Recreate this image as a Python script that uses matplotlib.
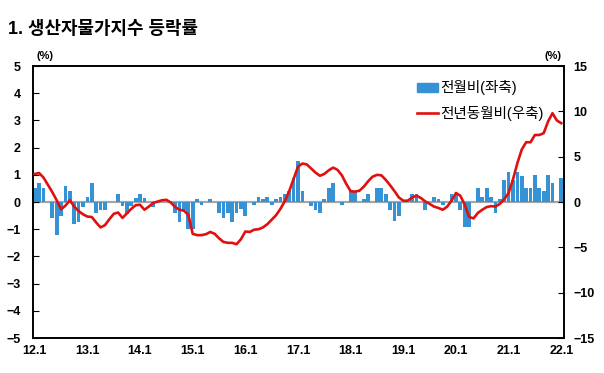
import numpy as np
import matplotlib.pyplot as plt
from matplotlib.patches import Patch
from matplotlib.lines import Line2D

plt.rcParams['font.family'] = ['Liberation Sans', 'Noto Sans CJK KR', 'DejaVu Sans']

# monthly, 2012.1 ~ 2022.1
tick_labels = ['12.1', '13.1', '14.1', '15.1', '16.1', '17.1',
               '18.1', '19.1', '20.1', '21.1', '22.1']

# 전월비 (left axis, %)
mom = [0.5, 0.7, 0.5, 0.0, -0.6, -1.2, -0.5, 0.6, 0.4, -0.8, -0.75, -0.2,
       0.2, 0.7, -0.4, -0.3, -0.3, 0.0, 0.0, 0.3, -0.15, -0.45, -0.15, 0.15,
       0.3, 0.15, 0.0, -0.2, 0.0, 0.0, 0.0, 0.0, -0.4, -0.75, -0.3, -1.0,
       -1.0, 0.1, -0.1, 0.0, 0.1, 0.0, -0.4, -0.6, -0.4, -0.75, -0.4, -0.25,
       -0.5, 0.0, -0.1, 0.2, 0.1, 0.2, -0.1, 0.1, 0.2, 0.3, 0.4, 0.9,
       1.5, 0.4, 0.0, -0.15, -0.3, -0.4, 0.1, 0.5, 0.7, 0.0, -0.1, 0.0,
       0.4, 0.4, 0.0, 0.1, 0.3, 0.0, 0.5, 0.5, 0.3, -0.3, -0.7, -0.5,
       0.0, 0.0, 0.3, 0.3, 0.0, -0.3, 0.0, 0.2, 0.1, -0.1, 0.0, 0.3,
       0.3, -0.3, -0.9, -0.9, 0.0, 0.5, 0.2, 0.5, 0.2, -0.4, 0.1, 0.8,
       1.1, 0.8, 1.1, 0.95, 0.5, 0.5, 1.0, 0.5, 0.4, 1.0, 0.7, 0.0,
       0.9]

# 전년동월비 (right axis, %)
yoy = [3.1, 3.2, 2.7, 1.9, 1.1, 0.2, -0.8, -0.4, 0.2, -0.5, -1.0, -1.35,
       -1.6, -1.65, -2.25, -2.8, -2.55, -1.9, -1.3, -1.15, -1.75, -1.25, -0.75, -0.35,
       -0.3, -0.85, -0.5, -0.1, 0.05, 0.2, 0.25, -0.05, -0.55, -0.85, -0.95, -1.4,
       -3.5, -3.65, -3.65, -3.55, -3.3, -3.5, -4.0, -4.4, -4.5, -4.5, -4.65, -4.1,
       -3.25, -3.3, -3.05, -3.0, -2.8, -2.45, -1.95, -1.45, -0.75, 0.1, 1.2, 2.55,
       3.9, 4.25, 4.15, 3.7, 3.25, 2.9, 3.1, 3.5, 3.8, 3.55, 2.95, 2.0,
       1.2, 1.15, 1.25, 1.7, 2.3, 2.8, 3.0, 2.95, 2.45, 1.85, 1.2, 0.5,
       0.15, 0.15, 0.5, 0.7, 0.45, 0.07, -0.2, -0.5, -0.65, -0.85, -0.5, 0.15,
       1.0, 0.7, -0.3, -1.65, -1.8, -1.2, -0.85, -0.55, -0.45, -0.5, -0.2, 0.3,
       1.0, 2.5, 4.3, 5.8, 6.6, 6.6, 7.4, 7.4, 7.6, 8.9, 9.8, 9.0,
       8.7]

bar_color = '#3592d4'
line_color = '#e01010'

months = np.arange(len(mom))

fig = plt.figure(figsize=(6.04, 3.73), dpi=100)
ax = fig.add_axes([0.0546, 0.0938, 0.879, 0.729])

ax.axhline(0, color='#a6a6a6', lw=1.6, zorder=1)
ax.bar(months, mom, width=0.85, color=bar_color, zorder=2)
ax.set_xlim(-0.4, 120.6)
ax.set_ylim(-5, 5)
ax.set_yticks(range(-5, 6))
ax.set_xticks(range(0, 121, 12))
ax.set_xticklabels(tick_labels)
ax.tick_params(axis='x', length=0, pad=5, labelsize=9)
ax.tick_params(axis='y', direction='in', length=4, pad=9, labelsize=9)

ax2 = ax.twinx()
ax2.plot(months, yoy, color=line_color, lw=1.9, zorder=3)
ax2.set_ylim(-15, 15)
ax2.set_yticks(range(-15, 16, 5))
ax2.tick_params(axis='y', direction='in', length=4, pad=7, labelsize=9)

for a in (ax, ax2):
    for s in a.spines.values():
        s.set_linewidth(1.2)
    for lbl in a.get_xticklabels() + a.get_yticklabels():
        lbl.set_fontweight('bold')

fig.text(45 / 604, 1 - 56 / 373, '(%)', fontsize=8, fontweight='bold',
         ha='center', va='center')
fig.text(553 / 604, 1 - 56 / 373, '(%)', fontsize=8, fontweight='bold',
         ha='center', va='center')

fig.text(8 / 604, 1 - 30 / 373, '1. 생산자물가지수 등락률', fontsize=12.9,
         fontweight='bold', ha='left', va='center')

handles = [Patch(color=bar_color), Line2D([], [], color=line_color, lw=1.9)]
ax2.legend(handles, ['전월비(좌축)', '전년동월비(우축)'], loc='upper left',
           bbox_to_anchor=(0.699, 0.996), frameon=False, fontsize=10.5,
           handlelength=1.4, handleheight=0.6, labelspacing=0.75,
           handletextpad=0.2)

fig.savefig('out.png', dpi=100)
